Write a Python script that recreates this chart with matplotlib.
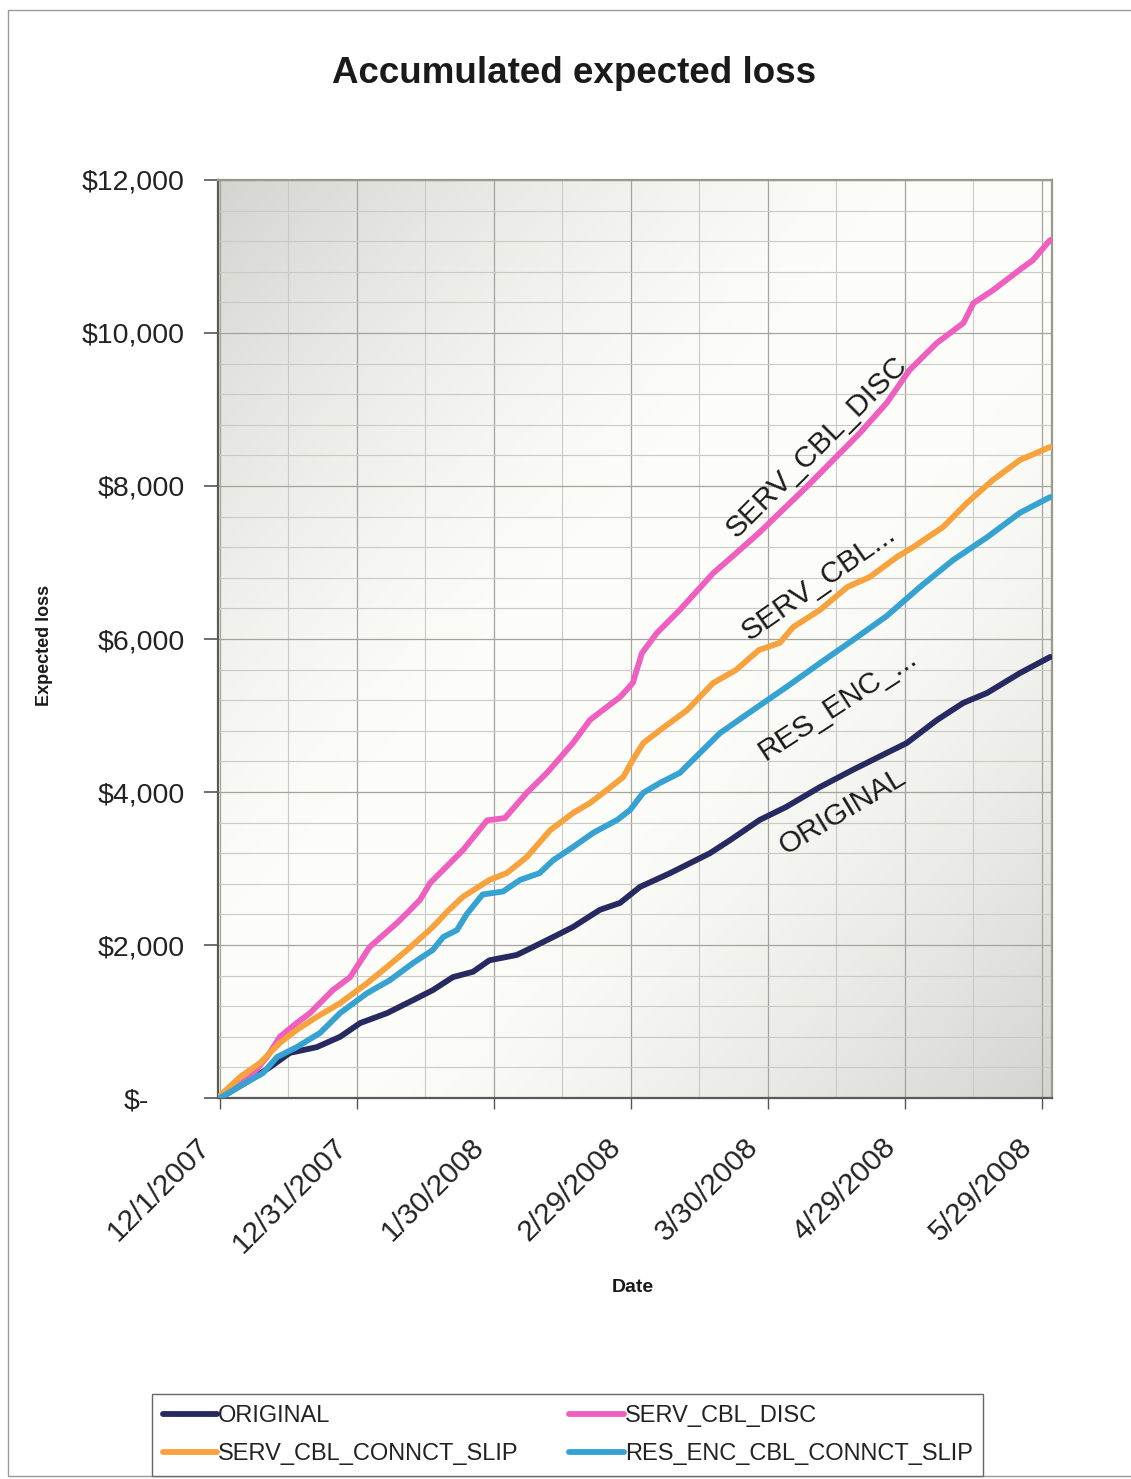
import matplotlib
matplotlib.use("Agg")
import matplotlib.pyplot as plt
import matplotlib.dates as mdates
from matplotlib.ticker import MultipleLocator, FixedLocator
from matplotlib.transforms import ScaledTranslation
from matplotlib.patches import Rectangle
import numpy as np
import pandas as pd

plt.rcParams['font.family'] = ['Liberation Sans', 'DejaVu Sans']

# data (days after 12/1/2007, accumulated expected loss in $)
start = pd.Timestamp("2007-12-01")

orig_days = [0, 6.6, 11, 15.3, 21.2, 26.3, 30.7, 36.6, 42.3, 46.6, 51, 55.4, 59, 65, 68.6, 73,
             77.3, 83.2, 87.6, 92, 98.6, 107.3, 111.7, 118.2, 124, 131.4, 138.6, 146, 150.4,
             157, 162.8, 168, 175.2, 181.8]
orig_vals = [0, 235, 405, 590, 665, 800, 980, 1110, 1280, 1410, 1580, 1650, 1800, 1870, 1975, 2105,
             2235, 2460, 2550, 2760, 2940, 3200, 3370, 3635, 3805, 4065, 4290, 4510, 4640,
             4940, 5165, 5295, 5555, 5765]

disc_days = [0, 6.6, 10.3, 13.1, 16.8, 19.7, 24.7, 28.5, 32.8, 38.8, 41, 43.8, 46, 53.2, 58.5,
             62.4, 67.2, 71.6, 77.3, 81, 84.7, 87.6, 90.4, 92.4, 95.7, 100.7, 108, 113, 118,
             122.6, 128.5, 134.3, 140.1, 146, 151, 157, 162.8, 165, 169.3, 175.9, 178, 181.8]
disc_vals = [0, 275, 536, 800, 980, 1110, 1410, 1580, 1975, 2290, 2420, 2590, 2810, 3240, 3630,
             3660, 3990, 4250, 4640, 4940, 5110, 5240, 5425, 5815, 6080, 6380, 6860, 7120, 7385,
             7650, 7990, 8340, 8690, 9085, 9515, 9870, 10130, 10390, 10560, 10860, 10950, 11215]

slip_days = [0, 4.4, 8.8, 13.1, 16.8, 21.2, 26.3, 32.2, 36.6, 41, 46.6, 50, 53.2, 59, 62.8, 67.2,
             72.3, 77.3, 81, 84.7, 88.3, 90.4, 92.7, 96.4, 102.3, 108, 113, 118, 122.6, 125.5,
             131.4, 137.4, 142.3, 148.2, 151.8, 155, 158.4, 163.6, 169.3, 175.2, 181.8]
slip_vals = [30, 275, 460, 720, 890, 1060, 1240, 1500, 1715, 1935, 2235, 2450, 2630, 2850, 2940, 3150,
             3500, 3725, 3855, 4025, 4195, 4420, 4640, 4810, 5070, 5425, 5595, 5855, 5950, 6155,
             6380, 6680, 6810, 7070, 7200, 7330, 7465, 7780, 8080, 8340, 8510]

res_days = [0, 5.9, 9.4, 12.5, 16.8, 21.9, 26.3, 32.2, 37.2, 42.3, 46.6, 48.9, 51.9, 54, 57.5, 62,
            65.7, 70, 73, 77.3, 81.7, 87, 89.8, 92.7, 96.4, 100.7, 109.5, 116.7, 124, 131.4,
            138.6, 146, 153.3, 160.5, 168, 175.2, 181.8]
res_vals = [0, 210, 325, 536, 665, 850, 1110, 1370, 1540, 1765, 1935, 2105, 2195, 2400, 2660, 2700,
            2850, 2940, 3110, 3280, 3465, 3635, 3765, 3990, 4120, 4250, 4770, 5070, 5370, 5685,
            5985, 6300, 6680, 7030, 7330, 7650, 7855]

series_names = ["ORIGINAL", "SERV_CBL_DISC", "SERV_CBL_CONNCT_SLIP", "RES_ENC_CBL_CONNCT_SLIP"]
series_colors = ["#272a60", "#ee5fc0", "#f7a23c", "#35a2d2"]

tick_days = [0, 30, 60, 90, 120, 150, 180]
ytick_vals = [0, 2000, 4000, 6000, 8000, 10000, 12000]
ytick_labels = ["$-", "$2,000", "$4,000", "$6,000", "$8,000", "$10,000", "$12,000"]


def to_dates(days):
    return [start + pd.Timedelta(days=d) for d in days]


fig = plt.figure(figsize=(11.31, 14.79), dpi=100)
ax = fig.add_axes([0.1927, 0.2576, 0.7374, 0.6207])

# diagonal grey-white-grey background like the Excel fill
gx, gy = np.meshgrid(np.linspace(0, 1, 300), np.linspace(1, 0, 300))
s = np.abs(gx - gy)  # 0 on the white diagonal band, 1 at top-left / bottom-right corners
shade = 1 - 0.16 * np.clip((s - 0.15) / 0.85, 0, 1) ** 1.4
rgb = np.dstack([shade * 0.99, shade * 0.99, shade * 0.975])
ax.imshow(rgb, extent=[0, 1, 0, 1], transform=ax.transAxes, aspect='auto', zorder=0)

lines = []
for days, vals, name, col in [(orig_days, orig_vals, series_names[0], series_colors[0]),
                              (disc_days, disc_vals, series_names[1], series_colors[1]),
                              (slip_days, slip_vals, series_names[2], series_colors[2]),
                              (res_days, res_vals, series_names[3], series_colors[3])]:
    ln, = ax.plot(to_dates(days), vals, color=col, lw=4.2, label=name, zorder=3,
                  solid_capstyle='round', solid_joinstyle='round')
    lines.append(ln)

ax.set_xlim(start - pd.Timedelta(days=0.45), start + pd.Timedelta(days=182.2))
ax.set_ylim(0, 12000)

tick_dates = to_dates(tick_days)
ax.xaxis.set_major_locator(FixedLocator([mdates.date2num(d) for d in tick_dates]))
ax.xaxis.set_minor_locator(FixedLocator([mdates.date2num(start + pd.Timedelta(days=d)) for d in range(15, 182, 30)]))
ax.set_xticklabels([])

# rotated date labels, placed under each major tick
xlab_trans = ax.get_xaxis_transform() + ScaledTranslation(-0.24, -0.35, fig.dpi_scale_trans)
for d in tick_dates:
    ax.text(d, 0, f"{d.month}/{d.day}/{d.year}", transform=xlab_trans, rotation=45,
            rotation_mode='anchor', ha='right', va='top', fontsize=21.5, color='#222222',
            clip_on=False)

ax.set_yticks(ytick_vals)
ax.set_yticklabels(ytick_labels, fontsize=20.5)
ax.yaxis.set_minor_locator(MultipleLocator(400))

ax.tick_params(axis='y', which='major', direction='out', length=10, width=1.2, pad=14, colors='#555555',
               labelcolor='#222222')
ax.tick_params(axis='y', which='minor', length=0)
ax.tick_params(axis='x', which='major', direction='out', length=8, width=1.0, colors='#555555')
ax.tick_params(axis='x', which='minor', length=0)

# nudge the "$-" label left like the accounting format
zero_lbl = ax.get_yticklabels()[0]
zero_lbl.set_transform(zero_lbl.get_transform() + ScaledTranslation(-0.36, 0, fig.dpi_scale_trans))

ax.grid(which='major', color='#a4a49c', lw=0.9, zorder=1)
ax.grid(which='minor', color='#cacac2', lw=0.8, zorder=1)
ax.set_axisbelow(True)

for side in ['left', 'bottom']:
    ax.spines[side].set_color('#5a5a5a')
    ax.spines[side].set_linewidth(1.6)
for side in ['top', 'right']:
    ax.spines[side].set_color('#9a9a8a')
    ax.spines[side].set_linewidth(1.6)

# in-line series labels
label_days = [136.4, 130.7, 131.0, 135.3]
label_vals = [3740, 8510, 6730, 5140]
label_text = ["ORIGINAL", "SERV_CBL_DISC", "SERV_CBL...", "RES_ENC_..."]
label_rot = [31, 45, 35, 33]
for d, v, t, r in zip(label_days, label_vals, label_text, label_rot):
    ax.text(start + pd.Timedelta(days=d), v, t, rotation=r, rotation_mode='anchor',
            ha='center', va='center', fontsize=21.5, color='#1a1a1a', zorder=4)

fig.text(0.508, 0.9506, "Accumulated expected loss", ha='center', va='center',
         fontsize=26.5, fontweight='bold', color='#1a1a1a')
fig.text(0.039, 0.5635, "Expected loss", rotation=90, ha='center', va='center',
         fontsize=13, fontweight='bold', color='#1a1a1a')
fig.text(0.5597, 0.1293, "Date", ha='center', va='center',
         fontsize=14, fontweight='bold', color='#1a1a1a')

leg = fig.legend([lines[0], lines[2], lines[1], lines[3]],
                 [series_names[0], series_names[2], series_names[1], series_names[3]],
                 ncol=2, loc='lower left', bbox_to_anchor=(0.1344, 0.0020, 0.735, 0.056),
                 mode='expand', fontsize=17, frameon=True, fancybox=False, framealpha=1,
                 edgecolor='#666666', handlelength=2.3, handletextpad=0.05, borderpad=0.45,
                 labelspacing=0.7, columnspacing=1.0, borderaxespad=0)
leg.get_frame().set_linewidth(1.0)
for t in leg.get_texts():
    t.set_color('#222222')

# page frame
fig.add_artist(Rectangle((0.007, 0.002), 1.0, 0.9912, transform=fig.transFigure,
                         fill=False, edgecolor='#9a9a9a', lw=1.0))

fig.savefig("out.png", dpi=100)
